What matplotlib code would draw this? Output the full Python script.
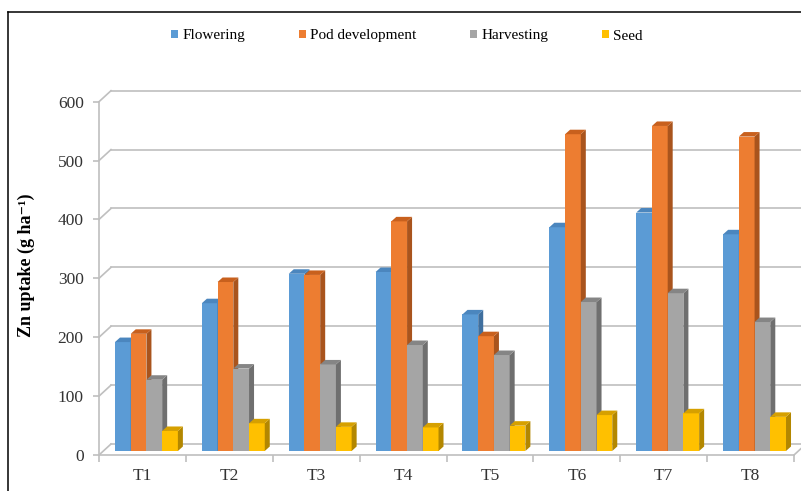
import matplotlib
matplotlib.use("Agg")
import matplotlib.pyplot as plt  # noqa: E402
from matplotlib.lines import Line2D  # noqa: E402
from matplotlib.patches import Patch, Polygon  # noqa: E402

plt.rcParams["font.family"] = ["Liberation Serif", "DejaVu Serif"]

CATS = ["T1", "T2", "T3", "T4", "T5", "T6", "T7", "T8"]
SERIES = ["Flowering", "Pod development", "Harvesting", "Seed"]
FLOWERING = [185, 251, 301, 304, 232, 380, 405, 368]
POD_DEV = [199, 287, 299, 390, 195, 538, 552, 534]
HARVESTING = [121, 140, 147, 180, 163, 253, 268, 219]
SEED = [34, 47, 41, 40, 43, 61, 64, 58]
YTICKS = [0, 100, 200, 300, 400, 500, 600]

FRONT = ["#5B9BD5", "#ED7D31", "#A5A5A5", "#FFC000"]
SIDE = ["#3F6F9E", "#A9541D", "#6F6F6F", "#B38700"]
TOP = ["#4B86BE", "#C8601D", "#858585", "#D6A000"]
GRID = "#BFBFBF"

W, H = 801, 491
fig = plt.figure(figsize=(W / 100, H / 100), dpi=100)
# front plane of the pseudo-3D box, in pixels
L, R, Y0, Y600 = 99, 794, 455, 101.7
ax = fig.add_axes([L / W, (H - Y0) / H, (R - L) / W, (Y0 - Y600) / H])
ax.set_xlim(0, len(CATS))
ax.set_ylim(0, 600)

px_x = len(CATS) / (R - L)
px_y = 600 / (Y0 - Y600)
back_dx, back_dy = 12 * px_x, 11 * px_y    # back wall offset
bar_dx, bar_dy = 4 * px_x, 4 * px_y        # bar front plane offset
dep_dx, dep_dy = 5 * px_x, 4.5 * px_y      # bar depth
BAR_W = 0.181

# walls: back gridlines, left wall connectors, floor
for v in YTICKS:
    ax.plot([back_dx, len(CATS) + back_dx], [v + back_dy] * 2, color=GRID, lw=1.2,
            clip_on=False, zorder=1)
    ax.plot([0, back_dx], [v, v + back_dy], color=GRID, lw=1.2, clip_on=False, zorder=1)
ax.plot([len(CATS), len(CATS) + back_dx], [0, back_dy], color=GRID, lw=1.2,
        clip_on=False, zorder=1)

for j, vals in enumerate([FLOWERING, POD_DEV, HARVESTING, SEED]):
    xs = [i + 0.5 + (j - 2) * BAR_W + bar_dx for i in range(len(CATS))]
    ax.bar(xs, vals, width=BAR_W, bottom=bar_dy, align="edge", color=FRONT[j],
           zorder=3 + 2 * j)
    for x0, v in zip(xs, vals):
        x1, b, t = x0 + BAR_W, bar_dy, bar_dy + v
        ax.add_patch(Polygon([(x1, b), (x1, t), (x1 + dep_dx, t + dep_dy),
                              (x1 + dep_dx, b + dep_dy)], closed=True,
                             facecolor=SIDE[j], edgecolor="none", zorder=4 + 2 * j))
        ax.add_patch(Polygon([(x0, t), (x1, t), (x1 + dep_dx, t + dep_dy),
                              (x0 + dep_dx, t + dep_dy)], closed=True,
                             facecolor=TOP[j], edgecolor="none", zorder=4 + 2 * j))

for s in ["top", "right"]:
    ax.spines[s].set_visible(False)
for s in ["left", "bottom"]:
    ax.spines[s].set_color(GRID)
    ax.spines[s].set_linewidth(1.2)
ax.set_facecolor("none")

ax.set_yticks(YTICKS)
ax.tick_params(axis="y", length=4, width=1.2, color=GRID, pad=7, labelsize=12.5,
               labelcolor="#333333")
ax.set_xticks(range(len(CATS) + 1))
ax.set_xticklabels([])
ax.set_xticks([i + 0.5 for i in range(len(CATS))], minor=True)
ax.set_xticklabels(CATS, minor=True)
ax.tick_params(axis="x", which="major", length=5, width=1.2, color=GRID)
ax.tick_params(axis="x", which="minor", length=0, pad=9, labelsize=12.5,
               labelcolor="#333333")

fig.text(26 / W, 1 - 265 / H, "Zn uptake (g ha\u207b\u00b9)", rotation=90,
         ha="center", va="center", fontsize=13, fontweight="bold")

handles = [Patch(facecolor=c, edgecolor="none", label=s) for c, s in zip(FRONT, SERIES)]
fig.legend(handles=handles, loc="center", bbox_to_anchor=(407 / W, 1 - 36 / H), ncol=4,
           frameon=False, fontsize=11, handlelength=0.45, handleheight=0.45,
           handletextpad=0.3, columnspacing=3.5)

# outer frame (cropped on right and bottom)
fig.add_artist(Line2D([8 / W, 8 / W], [0, 1 - 12 / H], transform=fig.transFigure,
                      color="black", lw=1.1))
fig.add_artist(Line2D([8 / W, 1], [1 - 12 / H, 1 - 12 / H], transform=fig.transFigure,
                      color="black", lw=1.1))

fig.savefig("out.png", dpi=100)
